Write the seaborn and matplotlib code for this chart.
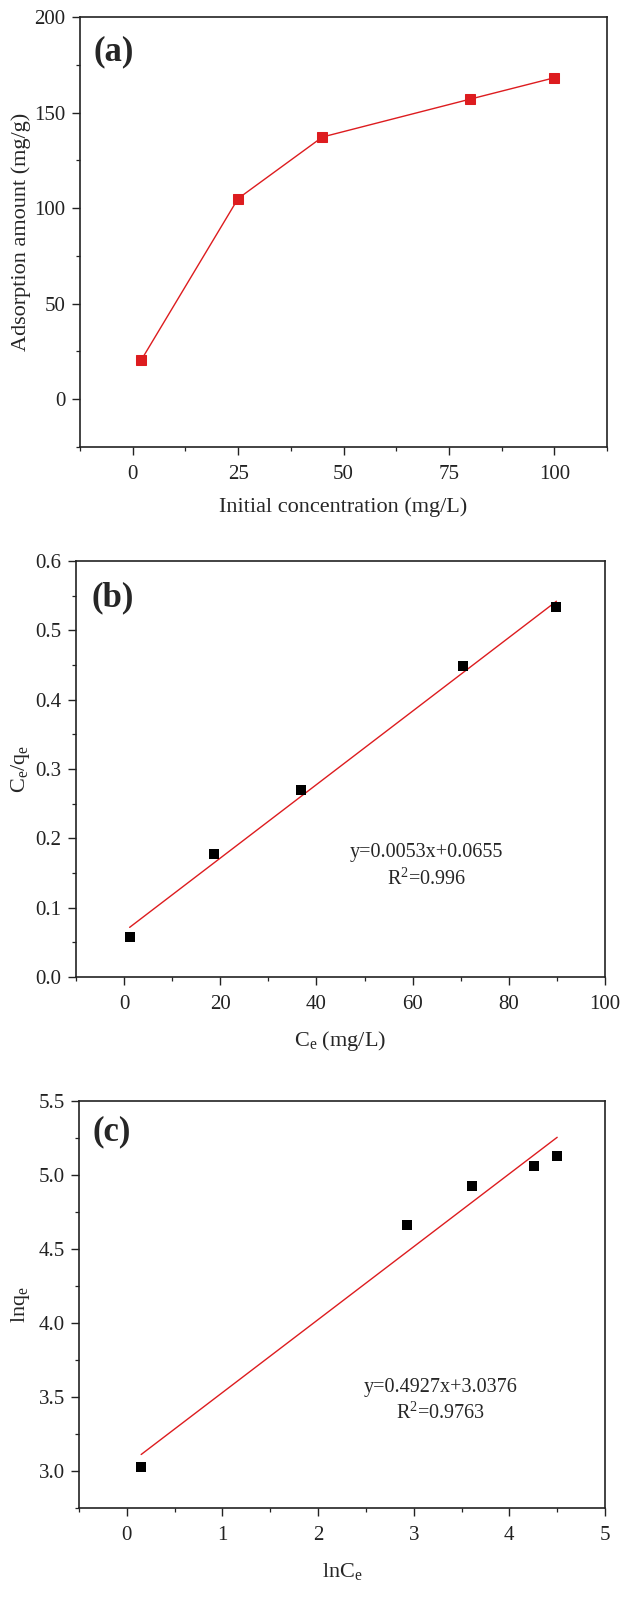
import matplotlib
matplotlib.use("Agg")
import matplotlib.pyplot as plt
from matplotlib.ticker import MultipleLocator, FormatStrFormatter
import seaborn as sns
import pandas as pd
import numpy as np

# ---------------- data ----------------
# (a) adsorption amount vs initial concentration
init_conc = [2, 25, 45, 80, 100]
ads_amount = [20.4, 105.0, 137.2, 157.0, 168.2]

# (b) Langmuir linear form
ce_b = [1.15, 18.7, 36.7, 70.5, 89.9]
ceqe_b = [0.057, 0.178, 0.269, 0.449, 0.533]
fit_b = [0.0053, 0.0655]          # slope, intercept
eq_b = ["y=0.0053x+0.0655", "R$^2$=0.996"]

# (c) Freundlich linear form
lnce_c = [0.15, 2.93, 3.605, 4.26, 4.50]
lnqe_c = [3.03, 4.659, 4.925, 5.06, 5.13]
fit_c = [0.4927, 3.0376]
eq_c = ["y=0.4927x+3.0376", "R$^2$=0.9763"]

# ---------------- style ----------------
sns.set_theme(style="ticks")
plt.rcParams["font.family"] = ["Liberation Serif", "DejaVu Serif"]
plt.rcParams["mathtext.fontset"] = "custom"
plt.rcParams["mathtext.rm"] = "Liberation Serif"
plt.rcParams["mathtext.it"] = "Liberation Serif:italic"
plt.rcParams["mathtext.default"] = "regular"

RED = "#dd1c1f"
TICK_FS = 15
LABEL_FS = 16
EQ_FS = 14.5

fig = plt.figure(figsize=(6.2, 16.1), dpi=100)

def style_axes(ax):
    for s in ax.spines.values():
        s.set_linewidth(1.2)
        s.set_color("#222222")
        s.set_visible(True)
    ax.tick_params(which="major", direction="out", length=5.8, width=1.0,
                   labelsize=TICK_FS, colors="#222222", top=False, right=False)
    ax.tick_params(which="minor", direction="out", length=2.9, width=0.9,
                   colors="#222222", top=False, right=False)
    ax.tick_params(axis="x", which="major", pad=7.0)
    ax.tick_params(axis="y", which="major", pad=4.5)
    ax.grid(False)

# ---------------- (a) ----------------
ax1 = fig.add_axes([80/620, 1-447/1610, 527/620, 430/1610])
df_a = pd.DataFrame({"x": init_conc, "y": ads_amount})
sns.lineplot(data=df_a, x="x", y="y", ax=ax1, color=RED, lw=1.0,
             marker="s", markersize=7, markeredgecolor=RED, markerfacecolor=RED)
ax1.set_xlim(-12.5, 112.5)
ax1.set_ylim(-25, 200)
ax1.xaxis.set_major_locator(MultipleLocator(25))
ax1.xaxis.set_minor_locator(MultipleLocator(12.5))
ax1.yaxis.set_major_locator(MultipleLocator(50))
ax1.yaxis.set_minor_locator(MultipleLocator(25))
style_axes(ax1)
ax1.set_xlabel("Initial concentration (mg/L)", fontsize=LABEL_FS)
ax1.set_ylabel("Adsorption amount (mg/g)", fontsize=LABEL_FS)
ax1.xaxis.set_label_coords(0.5, -0.117)
ax1.yaxis.set_label_coords(-0.093, 0.5)
ax1.text(0.025, 0.919, "(a)", transform=ax1.transAxes, fontsize=25,
         fontweight="bold", ha="left", va="center")

# ---------------- (b) ----------------
ax2 = fig.add_axes([76/620, 1-977/1610, 529/620, 416/1610])
df_b = pd.DataFrame({"x": ce_b, "y": ceqe_b})
xb = np.array([min(ce_b), max(ce_b)])
df_fb = pd.DataFrame({"x": xb, "y": fit_b[0]*xb + fit_b[1]})
sns.lineplot(data=df_fb, x="x", y="y", ax=ax2, color=RED, lw=1.0)
sns.scatterplot(data=df_b, x="x", y="y", ax=ax2, marker="s", s=50,
                color="black", edgecolor="black", linewidth=0, zorder=3)
ax2.set_xlim(-10, 100)
ax2.set_ylim(0, 0.6)
ax2.xaxis.set_major_locator(MultipleLocator(20))
ax2.xaxis.set_minor_locator(MultipleLocator(10))
ax2.yaxis.set_major_locator(MultipleLocator(0.1))
ax2.yaxis.set_minor_locator(MultipleLocator(0.05))
ax2.yaxis.set_major_formatter(FormatStrFormatter("%.1f"))
style_axes(ax2)
ax2.set_xlabel("C$_e$ (mg/L)", fontsize=LABEL_FS)
ax2.set_ylabel("C$_e$/q$_e$", fontsize=LABEL_FS)
ax2.xaxis.set_label_coords(0.5, -0.125)
ax2.yaxis.set_label_coords(-0.083, 0.5)
ax2.text(0.03, 0.911, "(b)", transform=ax2.transAxes, fontsize=25,
         fontweight="bold", ha="left", va="center")
ax2.text(62.9, 0.180, eq_b[0], fontsize=EQ_FS, ha="center", va="center")
ax2.text(62.9, 0.141, eq_b[1], fontsize=EQ_FS, ha="center", va="center")

# ---------------- (c) ----------------
ax3 = fig.add_axes([79/620, 1-1508/1610, 526/620, 407/1610])
df_c = pd.DataFrame({"x": lnce_c, "y": lnqe_c})
xc = np.array([min(lnce_c), max(lnce_c)])
df_fc = pd.DataFrame({"x": xc, "y": fit_c[0]*xc + fit_c[1]})
sns.lineplot(data=df_fc, x="x", y="y", ax=ax3, color=RED, lw=1.0)
sns.scatterplot(data=df_c, x="x", y="y", ax=ax3, marker="s", s=50,
                color="black", edgecolor="black", linewidth=0, zorder=3)
ax3.set_xlim(-0.5, 5)
ax3.set_ylim(2.75, 5.5)
ax3.xaxis.set_major_locator(MultipleLocator(1))
ax3.xaxis.set_minor_locator(MultipleLocator(0.5))
ax3.yaxis.set_major_locator(MultipleLocator(0.5))
ax3.yaxis.set_minor_locator(MultipleLocator(0.25))
ax3.yaxis.set_major_formatter(FormatStrFormatter("%.1f"))
style_axes(ax3)
ax3.set_xlabel("lnC$_e$", fontsize=LABEL_FS)
ax3.set_ylabel("lnq$_e$", fontsize=LABEL_FS)
ax3.xaxis.set_label_coords(0.5, -0.129)
ax3.yaxis.set_label_coords(-0.089, 0.5)
ax3.text(0.025, 0.924, "(c)", transform=ax3.transAxes, fontsize=25,
         fontweight="bold", ha="left", va="center")
ax3.text(3.285, 3.561, eq_c[0], fontsize=EQ_FS, ha="center", va="center")
ax3.text(3.285, 3.392, eq_c[1], fontsize=EQ_FS, ha="center", va="center")

fig.savefig("out.png", dpi=100)
